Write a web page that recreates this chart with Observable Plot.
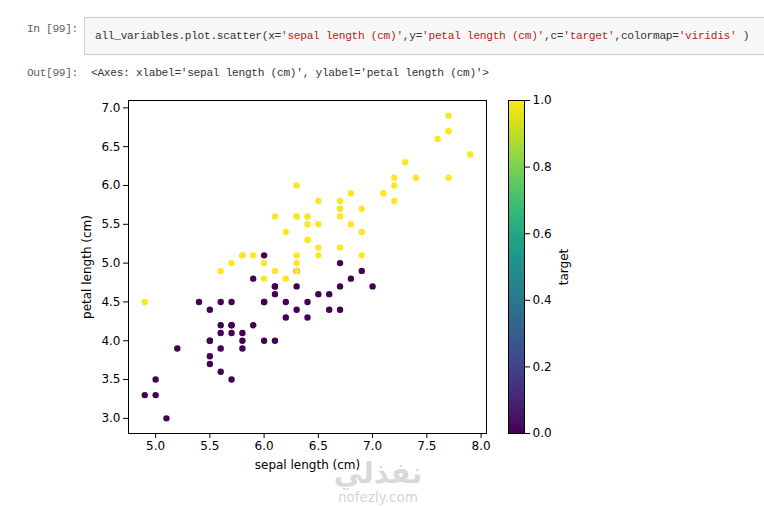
<!DOCTYPE html>
<html>
<head>
<meta charset="utf-8">
<script src="https://cdn.jsdelivr.net/npm/d3@7"></script>
<script src="https://cdn.jsdelivr.net/npm/@observablehq/plot@0.6"></script>
<style>
  html, body { margin: 0; padding: 0; background: #fff; }
  #page { position: relative; width: 764px; height: 506px; overflow: hidden; background: #fff; }
  .prompt { position: absolute; font-family: "Liberation Mono", "DejaVu Sans Mono", monospace; font-size: 11.2px; letter-spacing: -0.35px; color: #616161; white-space: pre; }
  .code { font-family: "Liberation Mono", "DejaVu Sans Mono", monospace; font-size: 11.2px; letter-spacing: -0.3px; color: #333; white-space: pre; }
  .str { color: #ba2121; }
  #cell { position: absolute; left: 84px; top: 17px; width: 700px; height: 38px; background: #f7f7f7; border: 1px solid #cfcfcf; box-sizing: border-box; }
  #cell .code { position: absolute; left: 10px; top: 12px; }
  #out { position: absolute; left: 91px; top: 67px; }
  #main { position: absolute; left: 70px; top: 90px; }
  #cbar { position: absolute; left: 500px; top: 90px; }
  #wm1 { position: absolute; left: 318px; top: 456px; width: 120px; text-align: center; font-family: "DejaVu Sans", sans-serif; font-weight: bold; font-size: 29px; color: rgba(200,200,200,0.7); }
  #wm2 { position: absolute; left: 318px; top: 489px; width: 120px; text-align: center; font-family: "DejaVu Sans", sans-serif; font-size: 13.5px; color: rgba(200,200,200,0.8); }
</style>
</head>
<body>
<div id="page">
  <div class="prompt" style="left:27px; top:23px;">In [99]:</div>
  <div id="cell"><div class="code">all_variables.plot.scatter(x=<span class="str">'sepal length (cm)'</span>,y=<span class="str">'petal length (cm)'</span>,c=<span class="str">'target'</span>,colormap=<span class="str">'viridis'</span> )</div></div>
  <div class="prompt" style="left:27px; top:67px;">Out[99]:</div>
  <div id="out" class="code">&lt;Axes: xlabel='sepal length (cm)', ylabel='petal length (cm)'&gt;</div>
  <div id="main"></div>
  <div id="cbar"></div>
  <div id="wm1">نفذلي</div>
  <div id="wm2">nofezly.com</div>
</div>
<script>
// target 0 (versicolor)
const sepal0 = [7.0,6.4,6.9,5.5,6.5,5.7,6.3,4.9,6.6,5.2,5.0,5.9,6.0,6.1,5.6,6.7,5.6,5.8,6.2,5.6,5.9,6.1,6.3,6.1,6.4,6.6,6.8,6.7,6.0,5.7,5.5,5.5,5.8,6.0,5.4,6.0,6.7,6.3,5.6,5.5,5.5,6.1,5.8,5.0,5.6,5.7,5.7,6.2,5.1,5.7];
const petal0 = [4.7,4.5,4.9,4.0,4.6,4.5,4.7,3.3,4.6,3.9,3.5,4.2,4.0,4.7,3.6,4.4,4.5,4.1,4.5,3.9,4.8,4.0,4.9,4.7,4.3,4.4,4.8,5.0,4.5,3.5,3.8,3.7,3.9,5.1,4.5,4.5,4.7,4.4,4.1,4.0,4.4,4.6,4.0,3.3,4.2,4.2,4.2,4.3,3.0,4.1];
// target 1 (virginica)
const sepal1 = [6.3,5.8,7.1,6.3,6.5,7.6,4.9,7.3,6.7,7.2,6.5,6.4,6.8,5.7,5.8,6.4,6.5,7.7,7.7,6.0,6.9,5.6,7.7,6.3,6.7,7.2,6.2,6.1,6.4,7.2,7.4,7.9,6.4,6.3,6.1,7.7,6.3,6.4,6.0,6.9,6.7,6.9,5.8,6.8,6.7,6.7,6.3,6.5,6.2,5.9];
const petal1 = [6.0,5.1,5.9,5.6,5.8,6.6,4.5,6.3,5.8,6.1,5.1,5.3,5.5,5.0,5.1,5.3,5.5,6.7,6.9,5.0,5.7,4.9,6.7,4.9,5.7,6.0,4.8,4.9,5.6,5.8,6.1,6.4,5.6,5.1,5.6,6.1,5.6,5.5,4.8,5.4,5.6,5.1,5.1,5.9,5.7,5.2,5.0,5.2,5.4,5.1];
const targets = [0, 1];
const xTicks = [5.0,5.5,6.0,6.5,7.0,7.5,8.0];
const yTicks = [3.0,3.5,4.0,4.5,5.0,5.5,6.0,6.5,7.0];
const cTicks = [0.0,0.2,0.4,0.6,0.8,1.0];

const rows = [
  ...sepal0.map((s, i) => ({sepal: s, petal: petal0[i], target: targets[0]})),
  ...sepal1.map((s, i) => ({sepal: s, petal: petal1[i], target: targets[1]}))
];

const font = {fontFamily: "'DejaVu Sans', sans-serif", fontSize: "12px", color: "#000", background: "transparent"};

const main = Plot.plot({
  width: 430, height: 390,
  marginLeft: 58, marginRight: 14, marginTop: 10, marginBottom: 47,
  style: font,
  x: {domain: [4.75, 8.05]},
  y: {domain: [2.805, 7.095]},
  color: {type: "linear", scheme: "viridis", domain: [0, 1]},
  marks: [
    Plot.dot(rows, {x: "sepal", y: "petal", fill: "target", r: 3.2, stroke: null}),
    Plot.frame({stroke: "#000", strokeWidth: 1}),
    Plot.axisX({ticks: xTicks, tickFormat: ".1f", tickSize: 5, tickPadding: 3, label: "sepal length (cm)", labelAnchor: "center", labelArrow: "none", labelOffset: 35, fill: "#000", stroke: "#000"}),
    Plot.axisY({ticks: yTicks, tickFormat: ".1f", tickSize: 5, tickPadding: 3, label: "petal length (cm)", labelAnchor: "center", labelArrow: "none", labelOffset: 46, fill: "#000", stroke: "#000"})
  ]
});
document.getElementById("main").appendChild(main);

const steps = d3.range(0, 1, 0.005);
const cbar = Plot.plot({
  width: 100, height: 360,
  marginLeft: 8, marginRight: 76, marginTop: 10, marginBottom: 17,
  style: font,
  x: {domain: [0, 1], axis: null},
  y: {domain: [0, 1]},
  color: {type: "linear", scheme: "viridis", domain: [0, 1]},
  marks: [
    Plot.rect(steps, {x1: 0, x2: 1, y1: d => d, y2: d => Math.min(1, d + 0.008), fill: d => d + 0.0025, stroke: d => d + 0.0025, strokeWidth: 0.6, shapeRendering: "crispEdges"}),
    Plot.frame({stroke: "#000", strokeWidth: 1}),
    Plot.axisY({anchor: "right", ticks: cTicks, tickFormat: ".1f", tickSize: 5, tickPadding: 3, label: "target", labelAnchor: "center", labelArrow: "none", labelOffset: 43, fill: "#000", stroke: "#000"})
  ]
});
document.getElementById("cbar").appendChild(cbar);
</script>
</body>
</html>
